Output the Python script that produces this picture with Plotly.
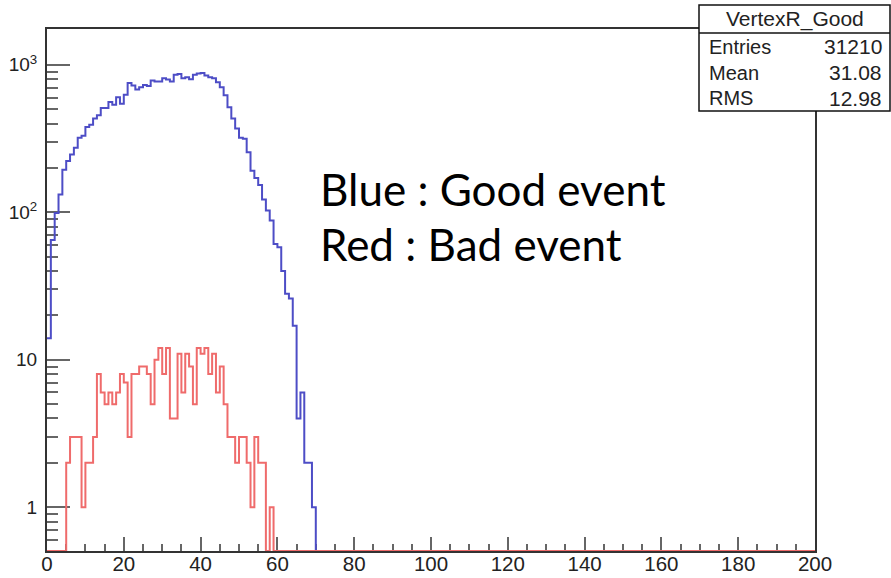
import numpy as np
import plotly.graph_objects as go

# ---------------- data ----------------
N_BINS = 200
X_LO, X_HI = 0.0, 200.0

# counts per 1-unit bin starting at 0 (bins beyond the list are empty)
good_counts = [14, 65, 99, 132, 194, 223, 247, 274, 320, 330,
               379, 393, 432, 455, 509, 509, 559, 536, 604, 544,
               626, 754, 724, 681, 705, 731, 720, 783, 770, 770,
               811, 795, 770, 855, 868, 811, 825, 800, 855, 872,
               881, 846, 825, 811, 762, 705, 621, 515, 432, 370,
               320, 315, 255, 191, 171, 153, 122, 103, 88, 61,
               58, 40, 28, 26, 17, 4, 6, 2, 2, 1]

bad_counts = [0, 0, 0, 0, 0, 2, 3, 3, 3, 1,
              2, 2, 3, 8, 6, 5, 6, 5, 6, 8,
              7, 3, 8, 8, 9, 9, 8, 5, 10, 12,
              8, 12, 4, 4, 11, 6, 11, 9, 5, 12,
              11, 12, 8, 11, 6, 9, 5, 3, 3, 2,
              3, 3, 2, 1, 3, 2, 2, 0, 1]

stats_title = "VertexR_Good"
stats_labels = ["Entries", "Mean", "RMS"]
stats_values = ["31210", "31.08", "12.98"]

legend_lines = ["Blue : Good event", "Red : Bad event"]

y_tickvals = [1, 10, 100, 1000]
y_ticktext = ["1", "10", "10<sup>2</sup>", "10<sup>3</sup>"]
y_minor = [0.6, 0.7, 0.8, 0.9] + [2, 3, 4, 5, 6, 7, 8, 9] + \
          [20, 30, 40, 50, 60, 70, 80, 90] + [200, 300, 400, 500, 600, 700, 800, 900]

Y_MIN, Y_MAX = 0.505, 1750.0

# ---------------- layout geometry (pixels) ----------------
W, H = 891, 578
L, R, T, B = 47, 76, 29, 27
PW, PH = W - L - R, H - T - B


def px(xp):
    return (xp - L) / PW


def py(yp):
    return (H - B - yp) / PH


edges = np.linspace(X_LO, X_HI, N_BINS + 1)


def step_y(counts):
    c = np.zeros(N_BINS)
    c[:len(counts)] = counts
    y = np.where(c > 0, c, Y_MIN)
    return np.append(y, y[-1])


fig = go.Figure()
fig.add_trace(go.Scatter(x=edges, y=step_y(good_counts), mode="lines",
                         line=dict(shape="hv", color="#4d4dc6", width=2),
                         showlegend=False, hoverinfo="skip"))
fig.add_trace(go.Scatter(x=edges, y=step_y(bad_counts), mode="lines",
                         line=dict(shape="hv", color="#ef6b6b", width=2),
                         showlegend=False, hoverinfo="skip"))

FAM = "Liberation Sans, Arial, sans-serif"
font = dict(family=FAM, size=19, color="#222222")

fig.update_layout(
    width=W, height=H,
    margin=dict(l=L, r=R, t=T, b=B, pad=0, autoexpand=False),
    paper_bgcolor="white", plot_bgcolor="white",
    font=font,
    showlegend=False,
)

fig.update_xaxes(
    range=[X_LO, X_HI], showgrid=False, zeroline=False, automargin=False,
    showline=True, linecolor="#333333", linewidth=2, mirror=True,
    ticks="inside", ticklen=14, tickwidth=1.5, tickcolor="#666666",
    tick0=0, dtick=20, tickfont=dict(family=FAM, size=20.5, color="#222222"),
    ticklabelstandoff=-7,
    minor=dict(ticks="inside", ticklen=7, tickwidth=1.5, tickcolor="#666666",
               dtick=5, showgrid=False),
    layer="below traces",
)
fig.update_yaxes(
    type="log", range=[np.log10(Y_MIN), np.log10(Y_MAX)],
    showgrid=False, zeroline=False, automargin=False,
    showline=True, linecolor="#333333", linewidth=2, mirror=True,
    ticks="inside", ticklen=23, tickwidth=1.5, tickcolor="#666666",
    tickmode="array", tickvals=y_tickvals, ticktext=y_ticktext, tickfont=font,
    ticklabelstandoff=4,
    minor=dict(ticks="inside", ticklen=11, tickwidth=1.5, tickcolor="#666666",
               tickmode="array", tickvals=y_minor, showgrid=False),
    layer="below traces",
)

# ---------------- stats box ----------------
bx0, bx1, by0, by1, bsep = 699, 890, 5, 111, 33
fig.add_shape(type="rect", xref="paper", yref="paper",
              x0=px(bx0), x1=px(bx1), y0=py(by1), y1=py(by0),
              line=dict(color="#111111", width=1.5), fillcolor="white", layer="above")
fig.add_shape(type="line", xref="paper", yref="paper",
              x0=px(bx0), x1=px(bx1), y0=py(bsep), y1=py(bsep),
              line=dict(color="#111111", width=1.5), layer="above")
fig.add_annotation(xref="paper", yref="paper", x=px((bx0 + bx1) / 2), y=py(19),
                   text=stats_title, showarrow=False, xanchor="center", yanchor="middle",
                   font=dict(family=FAM, size=21, color="#222222"))
for i, (lab, val) in enumerate(zip(stats_labels, stats_values)):
    yy = 47 + i * 25.5
    fig.add_annotation(xref="paper", yref="paper", x=px(707), y=py(yy), text=lab,
                       showarrow=False, xanchor="left", yanchor="middle",
                       font=dict(family=FAM, size=20, color="#222222"))
    fig.add_annotation(xref="paper", yref="paper", x=px(884), y=py(yy), text=val,
                       showarrow=False, xanchor="right", yanchor="middle",
                       font=dict(family=FAM, size=21, color="#222222"))

# ---------------- text overlay ----------------
big = dict(family="Lato, Carlito, sans-serif", size=44, color="#000000")
for i, line in enumerate(legend_lines):
    fig.add_annotation(xref="paper", yref="paper", x=px(318), y=py(189 + i * 55),
                       text=line, showarrow=False, xanchor="left", yanchor="middle",
                       font=big)

fig.write_html("out.html")
